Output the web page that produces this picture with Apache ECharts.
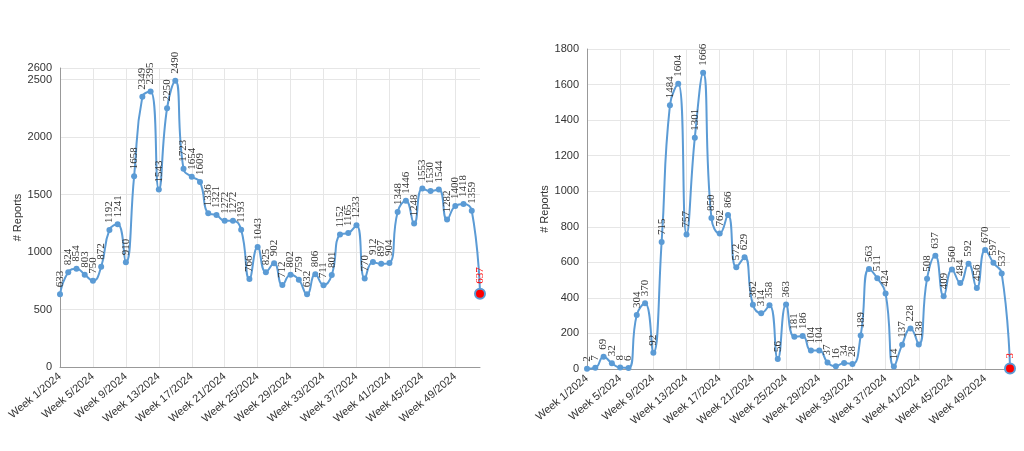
<!DOCTYPE html>
<html><head><meta charset="utf-8">
<script src="https://cdn.jsdelivr.net/npm/echarts@6/dist/echarts.min.js"></script>
<style>body{margin:0;background:#fff}#c{width:1024px;height:451px}</style>
</head><body><div id="c"></div>
<script>
var weeks = [];
for (var i = 1; i <= 52; i++) weeks.push('Week ' + i + '/2024');
var leftValues = [633,824,854,803,750,872,1192,1241,910,1658,2349,2395,1543,2250,2490,1723,1654,1609,1336,1321,1272,1272,1193,766,1043,825,902,712,802,759,632,806,711,801,1152,1165,1233,770,912,897,904,1348,1446,1248,1553,1530,1544,1282,1400,1418,1359,637];
var rightValues = [2,7,69,32,8,6,304,370,92,715,1484,1604,757,1301,1666,850,762,866,572,629,362,314,358,56,363,181,186,104,104,37,16,34,28,189,563,511,424,14,137,228,138,508,637,409,560,484,592,456,670,597,537,3];

function mkData(vals) {
    return vals.map(function (v, i) {
        if (i === vals.length - 1) {
            return { value: v, symbolSize: 10, itemStyle: { color: '#ff0000', borderColor: '#5b9bd5', borderWidth: 2 }, label: { color: '#ff0000' } };
        }
        return v;
    });
}

function xAxis(idx) {
    return {
        gridIndex: idx, type: 'category', data: weeks, boundaryGap: false,
        axisTick: { show: false },
        axisLine: { lineStyle: { color: '#999' } },
        axisLabel: { interval: 3, rotate: 40, color: '#333', fontSize: 11, fontFamily: 'Arial' },
        splitLine: { show: true, interval: 3, lineStyle: { color: '#e6e6e6' } }
    };
}
function yAxis(idx, max, interval) {
    return {
        gridIndex: idx, type: 'value', min: 0, max: max, interval: interval,
        name: '# Reports', nameLocation: 'middle', nameGap: 36, nameRotate: 90,
        nameTextStyle: { color: '#333', fontSize: 11 },
        axisLine: { show: true, lineStyle: { color: '#999' } },
        axisLabel: { color: '#333', fontSize: 11, showMaxLabel: true, formatter: function (v) { return String(v); } },
        splitLine: { lineStyle: { color: '#e6e6e6' } }
    };
}
function series(idx, vals) {
    return {
        type: 'line', xAxisIndex: idx, yAxisIndex: idx, smooth: true,
        showAllSymbol: true,
        data: mkData(vals), symbol: 'circle', symbolSize: 6,
        lineStyle: { color: '#5b9bd5', width: 2 }, itemStyle: { color: '#5b9bd5' },
        labelLayout: { hideOverlap: false },
        label: { show: true, position: 'top', rotate: 90, align: 'left', verticalAlign: 'middle', distance: 4,
            fontFamily: 'Liberation Serif', fontSize: 11, color: '#333' }
    };
}

var chart = echarts.init(document.getElementById('c'));
chart.setOption({
    animation: false,
    grid: [
        { left: 60, right: 544, top: 68, bottom: 84 },
        { left: 587, right: 14, top: 49, bottom: 82 }
    ],
    xAxis: [xAxis(0), xAxis(1)],
    yAxis: [yAxis(0, 2600, 500), yAxis(1, 1800, 200)],
    series: [series(0, leftValues), series(1, rightValues)]
});
</script></body></html>
